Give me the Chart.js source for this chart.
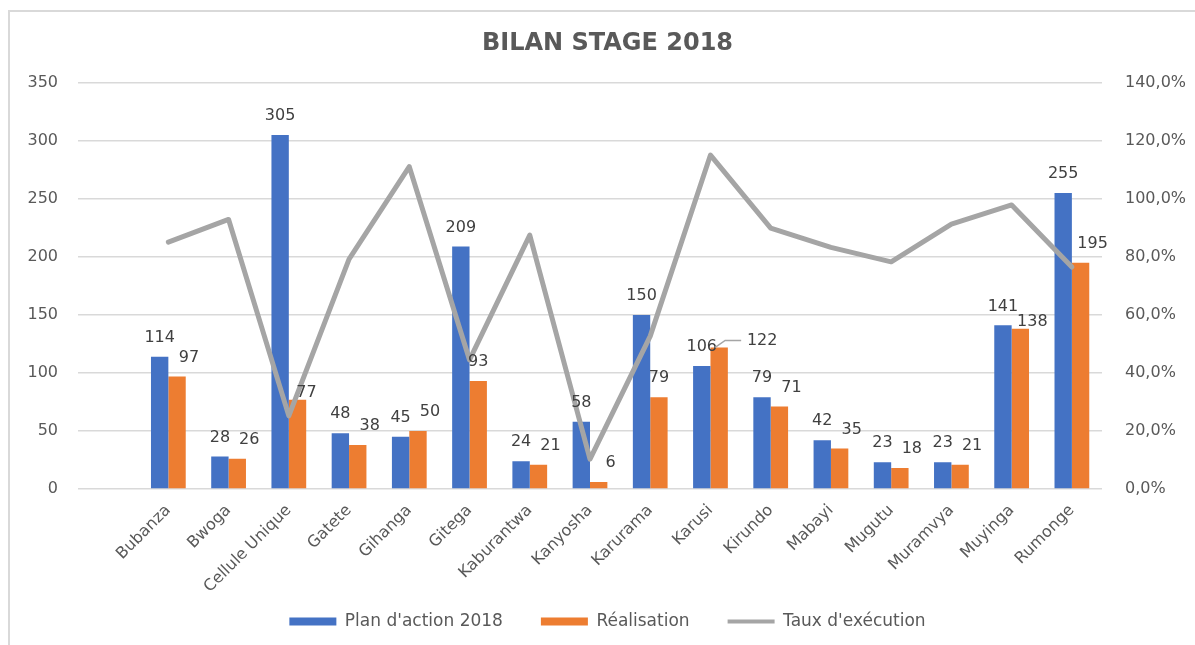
<!DOCTYPE html>
<html>
<head>
<meta charset="utf-8">
<script src="https://cdn.jsdelivr.net/npm/chart.js@4.4.1/dist/chart.umd.min.js"></script>
<style>
  html, body { margin: 0; padding: 0; background: #fff; overflow: hidden; }
  #frame { position: absolute; left: 8px; top: 10px; width: 1187px; height: 635px; box-sizing: border-box;
           border-left: 2px solid #D9D9D9; border-top: 2px solid #D9D9D9; }
  #wrap { position: absolute; left: 20px; top: 0; width: 1175px; height: 645px; }
</style>
</head>
<body>
<div id="frame"></div>
<div id="wrap"><canvas id="chart"></canvas></div>
<script>
const CATEGORIES = ['Bubanza', 'Bwoga', 'Cellule Unique', 'Gatete', 'Gihanga', 'Gitega', 'Kaburantwa',
  'Kanyosha', 'Karurama', 'Karusi', 'Kirundo', 'Mabayi', 'Mugutu', 'Muramvya', 'Muyinga', 'Rumonge'];
const PLAN = [114, 28, 305, 48, 45, 209, 24, 58, 150, 106, 79, 42, 23, 23, 141, 255];
const REALISATION = [97, 26, 77, 38, 50, 93, 21, 6, 79, 122, 71, 35, 18, 21, 138, 195];
const TAUX = [85.1, 92.9, 25.2, 79.2, 111.1, 44.5, 87.5, 10.3, 52.7, 115.1, 89.9, 83.3, 78.3, 91.3, 97.9, 76.5];
const LEFT_MAX = 350, LEFT_STEP = 50;
const RIGHT_MAX = 140, RIGHT_STEP = 20;

const FONT = '"DejaVu Sans", "Open Sans", sans-serif';
const TEXT = '#595959';
const BLUE = '#4472C4', ORANGE = '#ED7D31', GREY = '#A5A5A5';

// excel leaves an empty slot in front of the first district
const labels = [''].concat(CATEGORIES);
const pad = arr => [null].concat(arr);

// where excel pushed an orange label aside
const orangeNudge = {
  'Cellule Unique': { dx: 9, dy: 7 },
  'Gitega': { dx: 0, dy: 19 },
  'Karurama': { dx: 0, dy: 19 },
  'Karusi': { dx: 43, dy: 7, leader: true },
  'Muyinga': { dx: 12, dy: 7 }
};

const barLabels = {
  id: 'barLabels',
  afterDatasetsDraw(chart) {
    const ctx = chart.ctx;
    ctx.save();
    ctx.font = '16px ' + FONT;
    ctx.fillStyle = '#404040';
    ctx.textAlign = 'center';
    ctx.textBaseline = 'middle';
    [0, 1].forEach(di => {
      const values = chart.data.datasets[di].data;
      chart.getDatasetMeta(di).data.forEach((bar, i) => {
        if (values[i] == null) return;
        let n = { dx: 0, dy: 19 };
        if (di === 1) n = orangeNudge[labels[i]] || { dx: 12, dy: 19 };
        const x = bar.x + n.dx, y = bar.y - n.dy;
        if (n.leader) {
          ctx.strokeStyle = GREY;
          ctx.lineWidth = 1.5;
          ctx.beginPath();
          ctx.moveTo(bar.x - 4, bar.y);
          ctx.lineTo(bar.x + 6, y);
          ctx.lineTo(x - 21, y);
          ctx.stroke();
        }
        ctx.fillText(values[i], x, y);
      });
    });
    ctx.restore();
  }
};

new Chart(document.getElementById('chart'), {
  data: {
    labels: labels,
    datasets: [
      { type: 'bar', label: "Plan d'action 2018", data: pad(PLAN), backgroundColor: BLUE,
        borderWidth: 0, yAxisID: 'y', pointStyle: 'rect', order: 1 },
      { type: 'bar', label: 'Réalisation', data: pad(REALISATION), backgroundColor: ORANGE,
        borderWidth: 0, yAxisID: 'y', pointStyle: 'rect', order: 1 },
      { type: 'line', label: "Taux d'exécution", data: pad(TAUX), borderColor: GREY, backgroundColor: GREY,
        borderWidth: 5, pointRadius: 0, pointStyle: 'line', borderJoinStyle: 'round', borderCapStyle: 'round',
        yAxisID: 'y1', order: 0 }
    ]
  },
  options: {
    responsive: true,
    maintainAspectRatio: false,
    animation: false,
    datasets: { bar: { categoryPercentage: 0.577, barPercentage: 1 } },
    layout: { padding: { top: 0, bottom: 5, left: 0, right: 0 } },
    plugins: {
      title: {
        display: true, text: 'BILAN STAGE 2018', color: TEXT,
        font: { family: FONT, size: 24, weight: 'bold' },
        padding: { top: 29, bottom: 25 }
      },
      legend: {
        position: 'bottom',
        labels: {
          usePointStyle: true, pointStyleWidth: 47, boxHeight: 8, padding: 38,
          color: TEXT, font: { family: FONT, size: 17 },
          sort: (a, b) => a.datasetIndex - b.datasetIndex,
          generateLabels(chart) {
            const items = Chart.defaults.plugins.legend.labels.generateLabels(chart);
            items.forEach(it => { if (it.pointStyle === 'line') it.lineWidth = 4; });
            return items;
          }
        }
      },
      tooltip: { enabled: false }
    },
    scales: {
      x: {
        grid: { display: false, drawTicks: false }, border: { display: false },
        ticks: { color: TEXT, font: { family: FONT, size: 16 }, minRotation: 45, maxRotation: 45,
                 autoSkip: false, padding: 12 },
        afterFit(s) {
          s.height = 86;
          // rotated names run down into the legend band, as in excel
          s._computeLabelArea = () => undefined;
        }
      },
      y: {
        position: 'left', min: 0, max: LEFT_MAX,
        ticks: { stepSize: LEFT_STEP, padding: 20, color: TEXT, font: { family: FONT, size: 16 } },
        grid: { color: '#D9D9D9', lineWidth: 1.5, drawTicks: false }, border: { display: false },
        afterFit(s) { s.width = 58; }
      },
      y1: {
        position: 'right', min: 0, max: RIGHT_MAX,
        ticks: { stepSize: RIGHT_STEP, padding: 23, color: TEXT, font: { family: FONT, size: 16 },
                 callback: v => v.toFixed(1).replace('.', ',') + '%' },
        grid: { display: false, drawTicks: false }, border: { display: false },
        afterFit(s) { s.width = 93; }
      }
    }
  },
  plugins: [barLabels]
});
</script>
</body>
</html>
